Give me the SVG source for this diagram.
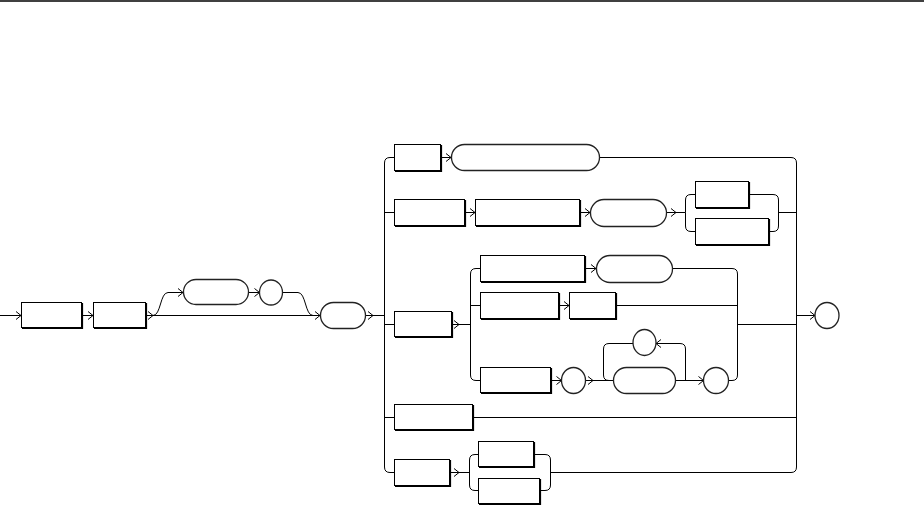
<svg xmlns="http://www.w3.org/2000/svg" width="924" height="505" viewBox="0 0 924 505">
<style>
.b{fill:#fff;stroke:#000;stroke-width:1}
.s{fill:none;stroke:#000;stroke-width:1.2}
.t{fill:#fff;stroke:#222;stroke-width:1.3}
.c{fill:none;stroke:#000;stroke-width:1}
.a{marker-end:url(#ar)}
</style>
<defs>
<marker id="ar" markerWidth="8" markerHeight="10" refX="6" refY="5" orient="auto" markerUnits="userSpaceOnUse">
<path d="M1,1 L6,5 L1,9" fill="none" stroke="#000" stroke-width="1"/>
</marker>
</defs>
<rect width="924" height="505" fill="#fff"/>
<path d="M0,1 H924" stroke="#000" stroke-width="1.5"/>
<g id="connectors">
<path class="c a" d="M0,315.5 H21"/>
<path class="c a" d="M83,315.5 H93"/>
<path class="c a" d="M147,315.5 H153"/>
<path class="c a" d="M153,315.5 H320"/>
<path class="c a" d="M153,315.5 C161,315.5 160,292.5 168,292.5 H183"/>
<path class="c a" d="M249,292.5 H259.5"/>
<path class="c" d="M282.5,292.5 H298 C306,292.5 305,315.5 313,315.5"/>
<path class="c a" d="M366,315.5 H373"/>
<path class="c" d="M373,315.5 H384.5"/>
<path class="c" d="M394,157.5 H390 Q384.5,157.5 384.5,163 V467 Q384.5,472.5 390,472.5 H394"/>
<path class="c a" d="M442,157.5 H451"/>
<path class="c" d="M600,157.5 H791 Q796.5,157.5 796.5,163 V467 Q796.5,472.5 791,472.5 H550.5"/>
<path class="c" d="M384.5,212.5 H394"/>
<path class="c a" d="M466,212.5 H475"/>
<path class="c a" d="M581,212.5 H590"/>
<path class="c a" d="M667,212.5 H676"/>
<path class="c" d="M676,212.5 H685.5"/>
<path class="c" d="M685.5,212.5 V200 Q685.5,194.5 691,194.5 H695"/>
<path class="c" d="M685.5,212.5 V226 Q685.5,231.5 691,231.5 H695"/>
<path class="c" d="M750,194.5 H773 Q778.5,194.5 778.5,200 V226 Q778.5,231.5 773,231.5 H770"/>
<path class="c" d="M778.5,212.5 H796.5"/>
<path class="c" d="M384.5,324.5 H394"/>
<path class="c a" d="M453,324.5 H459"/>
<path class="c" d="M459,324.5 H470.5"/>
<path class="c" d="M480,268.5 H476 Q470.5,268.5 470.5,274 V375 Q470.5,380.5 476,380.5 H480"/>
<path class="c" d="M470.5,305.5 H480"/>
<path class="c a" d="M586,268.5 H596"/>
<path class="c" d="M673,268.5 H732 Q737.5,268.5 737.5,274 V375 Q737.5,380.5 732,380.5 H728.5"/>
<path class="c a" d="M560,305.5 H569"/>
<path class="c" d="M617,305.5 H737.5"/>
<path class="c" d="M737.5,324.5 H796.5"/>
<path class="c a" d="M552,380.5 H561.5"/>
<path class="c a" d="M585.5,380.5 H593"/>
<path class="c" d="M593,380.5 H613"/>
<path class="c a" d="M676,380.5 H703.5"/>
<path class="c a" d="M685.5,380.5 V349 Q685.5,343.5 680,343.5 H656"/>
<path class="c" d="M633,343.5 H609 Q603.5,343.5 603.5,349 V375 Q603.5,380.5 609,380.5"/>
<path class="c" d="M384.5,417.5 H394"/>
<path class="c" d="M474,417.5 H796.5"/>
<path class="c a" d="M451,472.5 H459"/>
<path class="c" d="M459,472.5 H469.5"/>
<path class="c" d="M478,454.5 H475 Q469.5,454.5 469.5,460 V485 Q469.5,490.5 475,490.5 H478"/>
<path class="c" d="M535,454.5 H545 Q550.5,454.5 550.5,460 V485 Q550.5,490.5 545,490.5 H541"/>
<path class="c a" d="M796.5,315.5 H815"/>
</g>
<g id="n1"><rect class="b" x="21.5" y="302.5" width="60" height="25"/><path class="s" d="M22,328.5 H82.5 V303"/></g>
<g id="n2"><rect class="b" x="93.5" y="302.5" width="52" height="25"/><path class="s" d="M94,328.5 H146.5 V303"/></g>
<g id="p1"><rect class="t" x="183.5" y="279.5" width="65" height="25" rx="12.5"/></g>
<g id="c1"><ellipse class="t" cx="271" cy="292.5" rx="11.5" ry="12.5"/></g>
<g id="p2"><rect class="t" x="320.5" y="302.5" width="45" height="26" rx="13"/></g>
<g id="r1b"><rect class="b" x="394.5" y="144.5" width="46" height="26"/><path class="s" d="M395,171.5 H441.5 V145"/></g>
<g id="p3"><rect class="t" x="451.5" y="144.5" width="148" height="26" rx="13"/></g>
<g id="r2a"><rect class="b" x="394.5" y="199.5" width="70" height="26"/><path class="s" d="M395,226.5 H465.5 V200"/></g>
<g id="r2b"><rect class="b" x="475.5" y="199.5" width="104" height="26"/><path class="s" d="M476,226.5 H580.5 V200"/></g>
<g id="p4"><rect class="t" x="590.5" y="199.5" width="76" height="27" rx="13.5"/></g>
<g id="r2c1"><rect class="b" x="695.5" y="181.5" width="53" height="26"/><path class="s" d="M696,208.5 H749.5 V182"/></g>
<g id="r2c2"><rect class="b" x="695.5" y="218.5" width="73" height="26"/><path class="s" d="M696,245.5 H769.5 V219"/></g>
<g id="r3"><rect class="b" x="394.5" y="311.5" width="57" height="25"/><path class="s" d="M395,337.5 H452.5 V312"/></g>
<g id="r3a"><rect class="b" x="480.5" y="255.5" width="104" height="26"/><path class="s" d="M481,282.5 H585.5 V256"/></g>
<g id="p5"><rect class="t" x="596.5" y="255.5" width="76" height="27" rx="13.5"/></g>
<g id="r3b1"><rect class="b" x="480.5" y="292.5" width="78" height="26"/><path class="s" d="M481,319.5 H559.5 V293"/></g>
<g id="r3b2"><rect class="b" x="569.5" y="292.5" width="46" height="26"/><path class="s" d="M570,319.5 H616.5 V293"/></g>
<g id="r3c"><rect class="b" x="480.5" y="367.5" width="70" height="25"/><path class="s" d="M481,393.5 H551.5 V368"/></g>
<g id="c3"><ellipse class="t" cx="573.5" cy="380.5" rx="12" ry="13"/></g>
<g id="c4"><ellipse class="t" cx="644.5" cy="342.5" rx="11.5" ry="13"/></g>
<g id="p6"><rect class="t" x="613.5" y="367.5" width="62" height="26" rx="13"/></g>
<g id="c5"><ellipse class="t" cx="716" cy="380.5" rx="12.5" ry="13"/></g>
<g id="r4"><rect class="b" x="394.5" y="404.5" width="78" height="25"/><path class="s" d="M395,430.5 H473.5 V405"/></g>
<g id="r5"><rect class="b" x="394.5" y="459.5" width="55" height="26"/><path class="s" d="M395,486.5 H450.5 V460"/></g>
<g id="r5a"><rect class="b" x="478.5" y="441.5" width="55" height="25"/><path class="s" d="M479,467.5 H534.5 V442"/></g>
<g id="r5b"><rect class="b" x="478.5" y="478.5" width="61" height="25"/><path class="s" d="M479,504.5 H540.5 V479"/></g>
<g id="c2"><ellipse class="t" cx="827" cy="315.5" rx="12" ry="13"/></g>
</svg>
